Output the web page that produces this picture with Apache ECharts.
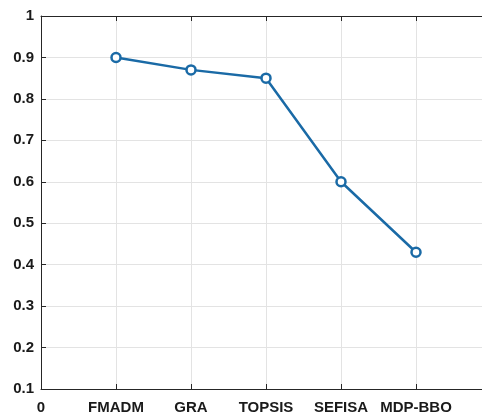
<!DOCTYPE html>
<html>
<head>
<meta charset="utf-8">
<style>
  html, body { margin: 0; padding: 0; background: #ffffff; }
  #chart { width: 482px; height: 415px; }
</style>
<script src="https://cdn.jsdelivr.net/npm/echarts@6/dist/echarts.min.js"></script>
</head>
<body>
<div id="chart"></div>
<script>
// Methods compared, placed at x = 1..5 on a 0..6 axis
const methods = ['FMADM', 'GRA', 'TOPSIS', 'SEFISA', 'MDP-BBO'];
const scores = [0.90, 0.87, 0.85, 0.60, 0.43];
const yTicks = [0.1, 0.2, 0.3, 0.4, 0.5, 0.6, 0.7, 0.8, 0.9, 1];

const lineColor = '#1a6aa6';
const axisColor = '#262626';
const gridColor = '#e3e3e3';
const font = 'Liberation Sans, Arial, sans-serif';

const points = methods.map((m, i) => [i + 1, scores[i]]);

function xLabel(v) {
  if (v === 0) return '0';
  if (v >= 1 && v <= methods.length) return methods[v - 1];
  return '';
}

const chart = echarts.init(document.getElementById('chart'), null, { renderer: 'canvas' });
chart.setOption({
  animation: false,
  backgroundColor: '#ffffff',
  // the plot box runs a little past the right edge of the page
  grid: {
    left: 41, top: 16, width: 450, bottom: 26,
    containLabel: false, outerBoundsMode: 'none'
  },
  xAxis: [
    {
      type: 'value', min: 0, max: 6, interval: 1, position: 'bottom',
      axisLine: { show: true, onZero: false, lineStyle: { color: axisColor, width: 1 } },
      axisTick: { show: true, inside: true, length: 5, lineStyle: { color: axisColor } },
      axisLabel: {
        formatter: xLabel, color: '#1a1a1a', fontFamily: font, fontWeight: 'bold',
        fontSize: 15, margin: 11
      },
      splitLine: { show: true, lineStyle: { color: gridColor, width: 1 } }
    },
    {
      type: 'value', min: 0, max: 6, interval: 1, position: 'top',
      axisLine: { show: true, onZero: false, lineStyle: { color: axisColor, width: 1 } },
      axisTick: { show: true, inside: true, length: 5, lineStyle: { color: axisColor } },
      axisLabel: { show: false },
      splitLine: { show: false }
    }
  ],
  yAxis: {
    type: 'value', min: 0.1, max: 1, interval: 0.1,
    axisLine: { show: true, onZero: false, lineStyle: { color: axisColor, width: 1 } },
    axisTick: { show: true, inside: true, length: 5, lineStyle: { color: axisColor } },
    axisLabel: {
      formatter: v => {
        const t = yTicks.find(k => Math.abs(k - v) < 1e-6);
        return t === undefined ? '' : String(t);
      },
      color: '#1a1a1a', fontFamily: font, fontWeight: 'bold', fontSize: 15, margin: 7
    },
    splitLine: { show: true, lineStyle: { color: gridColor, width: 1 } }
  },
  series: [{
    type: 'line',
    data: points,
    xAxisIndex: 0,
    symbol: 'circle',
    symbolSize: 9,
    showAllSymbol: true,
    lineStyle: { color: lineColor, width: 2.5 },
    itemStyle: { color: '#ffffff', borderColor: lineColor, borderWidth: 2.5 },
    emphasis: { disabled: true }
  }]
});
</script>
</body>
</html>
